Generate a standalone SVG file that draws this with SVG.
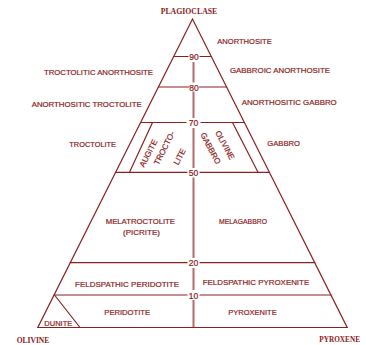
<svg xmlns="http://www.w3.org/2000/svg" width="366" height="345" viewBox="0 0 366 345">
<style>
.ln{stroke:#8b2020;stroke-width:1.2;fill:none;stroke-linecap:round}
.ax{stroke:#b46a6a;stroke-width:2;fill:none}
.t{font-family:"Liberation Sans",Arial,sans-serif;font-size:8px;fill:#8b1a1a;stroke:#8b1a1a;stroke-width:0.2}
.n{font-family:"Liberation Sans",Arial,sans-serif;font-size:8.5px;fill:#8b1a1a;stroke:#8b1a1a;stroke-width:0.2;text-anchor:middle}
.h{font-family:"Liberation Serif","Times New Roman",serif;font-size:8.5px;font-weight:bold;fill:#8b1a1a}
</style>
<rect width="366" height="345" fill="#ffffff"/>
<g id="connectors">
<path class="ln" d="M192.5,19 L37.8,327.5 L347.2,327.5 Z"/>
<path class="ln" d="M173.7,56.5 H188 M200,56.5 H211.3"/>
<path class="ln" d="M158.4,87 H189 M199.5,87 H226.6"/>
<path class="ln" d="M140.6,122.5 H186 M201,122.5 H244.4"/>
<path class="ln" d="M115.6,172.3 H187 M200,172.3 H269.4"/>
<path class="ln" d="M70.3,262.7 H187 M200,262.7 H314.7"/>
<path class="ln" d="M54.1,295 H187 M200,295 H330.9"/>
<path class="ln" d="M152.5,122.5 L129.5,172.3"/>
<path class="ln" d="M232.5,122.5 L258,172.3"/>
<path class="ln" d="M54.5,295 L80,327.5"/>
<path class="ax" d="M193.5,62 V82.5 M193.5,91.5 V118 M193.5,128 V168 M193.5,177.5 V258 M193.5,268 V290 M193.5,300 V327"/>
</g>
<g id="numbers">
<text class="n" x="194" y="60">90</text>
<text class="n" x="194" y="90.5">80</text>
<text class="n" x="193.5" y="126">70</text>
<text class="n" x="193.5" y="176">50</text>
<text class="n" x="193.5" y="266">20</text>
<text class="n" x="193.5" y="298.5">10</text>
</g>
<g id="plagioclase"><text class="h" x="160.7" y="13.5" textLength="56.6" lengthAdjust="spacingAndGlyphs">PLAGIOCLASE</text></g>
<g id="olivine"><text class="h" x="16.7" y="342.7" textLength="32.6" lengthAdjust="spacingAndGlyphs">OLIVINE</text></g>
<g id="pyroxene"><text class="h" x="319.3" y="341.5" textLength="40.7" lengthAdjust="spacingAndGlyphs">PYROXENE</text></g>
<g id="anorthosite"><text class="t" x="217.3" y="43.5" textLength="54.4" lengthAdjust="spacingAndGlyphs">ANORTHOSITE</text></g>
<g id="troctolitic-anorthosite"><text class="t" x="44" y="74.5" textLength="109" lengthAdjust="spacingAndGlyphs">TROCTOLITIC  ANORTHOSITE</text></g>
<g id="gabbroic-anorthosite"><text class="t" x="230" y="73.3" textLength="100" lengthAdjust="spacingAndGlyphs">GABBROIC  ANORTHOSITE</text></g>
<g id="anorthositic-troctolite"><text class="t" x="31.7" y="106.5" textLength="110" lengthAdjust="spacingAndGlyphs">ANORTHOSITIC  TROCTOLITE</text></g>
<g id="anorthositic-gabbro"><text class="t" x="241.7" y="104.5" textLength="95" lengthAdjust="spacingAndGlyphs">ANORTHOSITIC  GABBRO</text></g>
<g id="troctolite"><text class="t" x="69.3" y="147.3" textLength="46.7" lengthAdjust="spacingAndGlyphs">TROCTOLITE</text></g>
<g id="gabbro"><text class="t" x="267.3" y="146" textLength="32.7" lengthAdjust="spacingAndGlyphs">GABBRO</text></g>
<g id="augite-troctolite">
<text class="t" text-anchor="middle" transform="translate(148.3,153.3) rotate(-63)" dy="2.8">AUGITE</text>
<text class="t" text-anchor="middle" transform="translate(164.3,148) rotate(-63)" dy="2.8">TROCTO-</text>
<text class="t" text-anchor="middle" transform="translate(179.5,156.7) rotate(-63)" dy="2.8">LITE</text>
</g>
<g id="olivine-gabbro">
<text class="t" text-anchor="middle" transform="translate(225,145) rotate(62)" dy="2.8">OLIVINE</text>
<text class="t" text-anchor="middle" transform="translate(210.7,148.3) rotate(62)" dy="2.8">GABBRO</text>
</g>
<g id="melatroctolite">
<text class="t" x="105.7" y="224" textLength="69.3" lengthAdjust="spacingAndGlyphs">MELATROCTOLITE</text>
<text class="t" x="123" y="234.5" textLength="37" lengthAdjust="spacingAndGlyphs">(PICRITE)</text>
</g>
<g id="melagabbro"><text class="t" x="219" y="224" textLength="48" lengthAdjust="spacingAndGlyphs">MELAGABBRO</text></g>
<g id="feldspathic-peridotite"><text class="t" x="75" y="286.5" textLength="104" lengthAdjust="spacingAndGlyphs">FELDSPATHIC  PERIDOTITE</text></g>
<g id="feldspathic-pyroxenite"><text class="t" x="202.7" y="285" textLength="106.5" lengthAdjust="spacingAndGlyphs">FELDSPATHIC  PYROXENITE</text></g>
<g id="peridotite"><text class="t" x="104.3" y="315" textLength="45.7" lengthAdjust="spacingAndGlyphs">PERIDOTITE</text></g>
<g id="pyroxenite"><text class="t" x="228.3" y="315" textLength="48.4" lengthAdjust="spacingAndGlyphs">PYROXENITE</text></g>
<g id="dunite"><text class="t" x="44.3" y="326" textLength="28" lengthAdjust="spacingAndGlyphs">DUNITE</text></g>
</svg>
